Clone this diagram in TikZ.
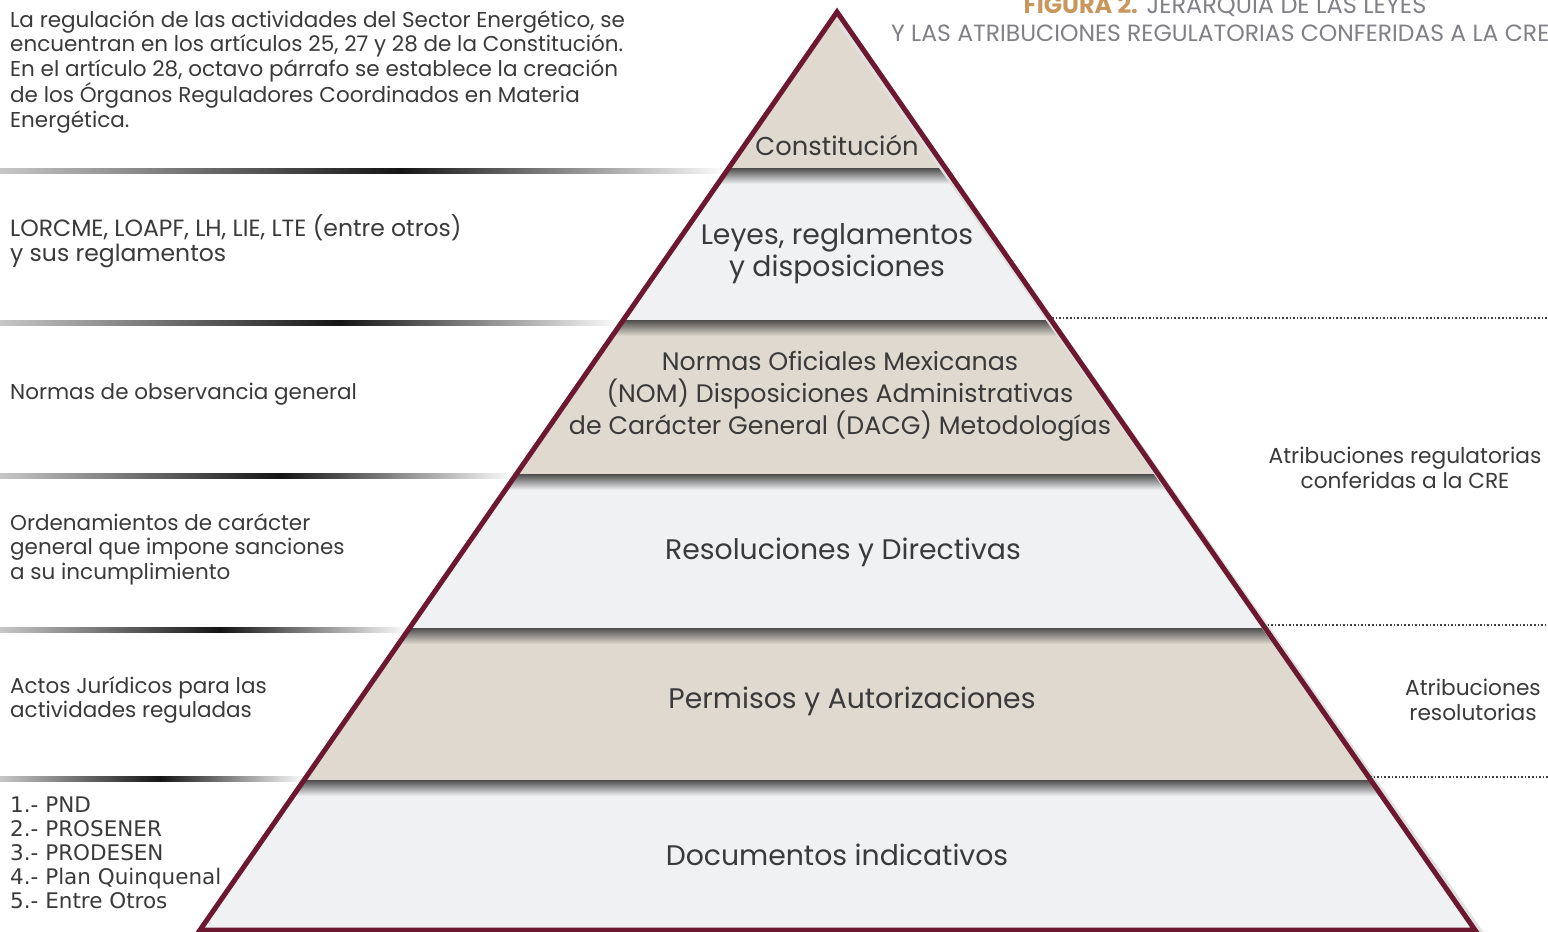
\documentclass[tikz,border=0pt]{standalone}
\usepackage{fontspec}
\setmainfont{Poppins}
\newfontfamily\listfont{DejaVu Sans}
\begin{document}
\begin{tikzpicture}[x=1pt, y=-1pt,
  leftnote/.style={anchor=west, align=left, inner sep=0pt, text=textcol, font=\fontsize{21.5}{24.5}\selectfont},
  bandlabel/.style={align=center, inner sep=0pt, text=textcol, font=\fontsize{28.3}{32}\selectfont},
  rightnote/.style={align=center, inner sep=0pt, text=textcol, font=\fontsize{21.7}{24.5}\selectfont},
  sepleft/.style={left color=black!22, right color=black!92},
  sepright/.style={left color=black!92, right color=white},
  dotline/.style={dotted, line width=1.6pt, black!75},
  bandshadow/.style={top color=black!70, bottom color=#1}]
\definecolor{textcol}{HTML}{3A3A3A}
\definecolor{tanband}{HTML}{E0D9CF}
\definecolor{greyband}{HTML}{F0F1F3}
\definecolor{bordercol}{HTML}{6B1830}
\definecolor{titlegold}{HTML}{C9975C}
\definecolor{titlegrey}{HTML}{808086}
\clip (0,0) rectangle (1548,932);
\fill[white] (0,0) rectangle (1548,932);
% separators on the left
\shade[sepleft] (0,168.5) rectangle (400,173.5);
\shade[sepright] (400,168.5) rectangle (728,173.5);
\shade[sepleft] (0,320.5) rectangle (340,325.5);
\shade[sepright] (340,320.5) rectangle (622,325.5);
\shade[sepleft] (0,473.5) rectangle (280,478.5);
\shade[sepright] (280,473.5) rectangle (516,478.5);
\shade[sepleft] (0,627.5) rectangle (220,632.5);
\shade[sepright] (220,627.5) rectangle (409,632.5);
\shade[sepleft] (0,776.5) rectangle (160,781.5);
\shade[sepright] (160,776.5) rectangle (306,781.5);
% pyramid bands
\begin{scope}
\clip (837,12) -- (1475,930) -- (200,930) -- cycle;
\fill[tanband] (0,0) rectangle (1548,168);
\fill[greyband] (0,168) rectangle (1548,320);
\fill[tanband] (0,320) rectangle (1548,474);
\fill[greyband] (0,474) rectangle (1548,628);
\fill[tanband] (0,628) rectangle (1548,780);
\fill[greyband] (0,780) rectangle (1548,932);
\shade[bandshadow=greyband] (0,168) rectangle (1548,184);
\shade[bandshadow=tanband] (0,320) rectangle (1548,336);
\shade[bandshadow=greyband] (0,474) rectangle (1548,490);
\shade[bandshadow=tanband] (0,628) rectangle (1548,644);
\shade[bandshadow=greyband] (0,780) rectangle (1548,796);
\end{scope}
% outline
\draw[line width=7pt, black!12] (841,22) -- (1482,936);
\draw[line width=5pt, bordercol] (837,12) -- (1475,930) -- (200,930) -- cycle;
% dotted lines on the right
\coordinate (d1) at (1052,318);
\coordinate (d2) at (1264,625);
\coordinate (d3) at (1370,777);
\draw[dotline] (d1) -- (1548,318);
\draw[dotline] (d2) -- (1548,625);
\draw[dotline] (d3) -- (1548,777);
% title
\node[inner sep=0pt, font=\fontsize{24}{28}\selectfont] (title1) at (1225,6) {\textcolor{titlegold}{\bfseries FIGURA 2.} \textcolor{titlegrey}{JERARQUIA DE LAS LEYES}};
\node[anchor=west, inner sep=0pt, text=titlegrey, font=\fontsize{23.5}{28}\selectfont] (title2) at (891,33) {Y LAS ATRIBUCIONES REGULATORIAS CONFERIDAS A LA CRE};
% band labels
\node[bandlabel, font=\fontsize{25.8}{32}\selectfont] (constitucion) at (837,145) {Constitución};
\node[bandlabel] (leyes) at (837,254) {Leyes, reglamentos\\y disposiciones};
\node[bandlabel, font=\fontsize{25.3}{32}\selectfont] (normas) at (840,396) {Normas Oficiales Mexicanas\\(NOM) Disposiciones Administrativas\\de Carácter General (DACG) Metodologías};
\node[bandlabel] (resoluciones) at (843,552) {Resoluciones y Directivas};
\node[bandlabel] (permisos) at (852,701) {Permisos y Autorizaciones};
\node[bandlabel] (documentos) at (837,855) {Documentos indicativos};
% notes on the left
\node[leftnote] (note1) at (10,71.5) {La regulación de las actividades del Sector Energético, se\\encuentran en los artículos 25, 27 y 28 de la Constitución.\\En el artículo 28, octavo párrafo se establece la creación\\de los Órganos Reguladores Coordinados en Materia\\Energética.};
\node[leftnote, font=\fontsize{23.5}{25}\selectfont] (note2) at (10,241.5) {LORCME, LOAPF, LH, LIE, LTE (entre otros)\\y sus reglamentos};
\node[leftnote] (note3) at (10,394) {Normas de observancia general};
\node[leftnote] (note4) at (10,549) {Ordenamientos de carácter\\general que impone sanciones\\a su incumplimiento};
\node[leftnote] (note5) at (10,700) {Actos Jurídicos para las\\actividades reguladas};
\node[leftnote, font=\listfont\fontsize{21.5}{24}\selectfont] (note6) at (10,853) {1.- PND\\2.- PROSENER\\3.- PRODESEN\\4.- Plan Quinquenal\\5.- Entre Otros};
% notes on the right
\node[rightnote] (attr1) at (1405,468) {Atribuciones regulatorias\\conferidas a la CRE};
\node[rightnote] (attr2) at (1473,700) {Atribuciones\\resolutorias};
\end{tikzpicture}
\end{document}
